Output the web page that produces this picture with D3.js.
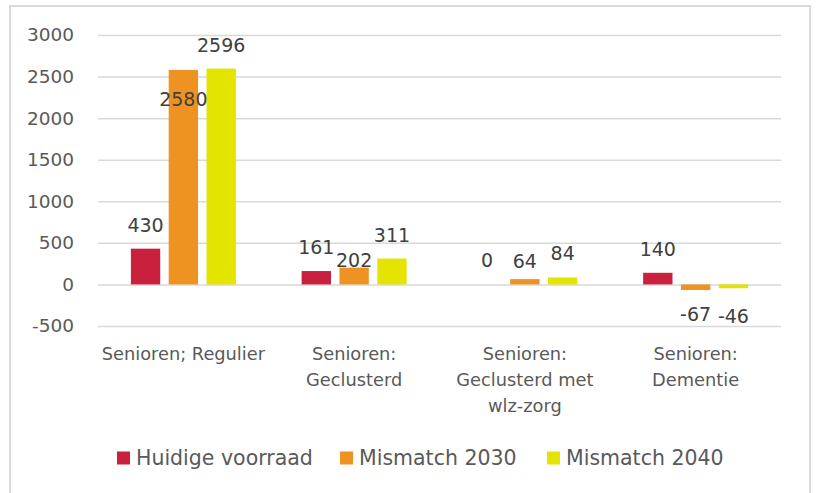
<!DOCTYPE html>
<html>
<head>
<meta charset="utf-8">
<script src="https://cdn.jsdelivr.net/npm/d3@7"></script>
<style>
  body { margin: 0; background: #fff; }
  svg { display: block; }
</style>
</head>
<body>
<script>
const categories = ["Senioren; Regulier", "Senioren:\nGeclusterd", "Senioren:\nGeclusterd met\nwlz-zorg", "Senioren:\nDementie"];
const series = ["Huidige voorraad", "Mismatch 2030", "Mismatch 2040"];
const huidige = [430, 161, 0, 140];
const mismatch2030 = [2580, 202, 64, -67];
const mismatch2040 = [2596, 311, 84, -46];
const yTicks = [-500, 0, 500, 1000, 1500, 2000, 2500, 3000];

const colors = ["#c9213d", "#ee9322", "#e3e400"];
const values = [huidige, mismatch2030, mismatch2040];

const w = 816, h = 493;
const svg = d3.select("body").append("svg").attr("width", w).attr("height", h);

// chart frame
svg.append("rect")
  .attr("x", 10).attr("y", 6)
  .attr("width", 800).attr("height", 500)
  .attr("fill", "none").attr("stroke", "#d9d9d9").attr("stroke-width", 2);

const left = 98, right = 781;
const y = d3.scaleLinear().domain([-500, 3000]).range([326, 35]);
const x0 = d3.scaleBand().domain(categories).range([left, right]);
const x1 = d3.scaleBand().domain(series).range([-52.5, 52.5]).paddingInner(0.224);

// gridlines + tick labels
const yAxis = svg.append("g")
  .attr("transform", `translate(${left},0)`)
  .call(d3.axisLeft(y).tickValues(yTicks).tickFormat(d => String(d)).tickSize(-(right - left)).tickPadding(24));
yAxis.select(".domain").remove();
yAxis.selectAll("line").attr("stroke", "#d9d9d9").attr("stroke-width", 1.5);
yAxis.selectAll("text")
  .style("font-family", "DejaVu Sans")
  .style("font-size", "18.5px")
  .attr("fill", "#595959");

// bars
const rows = [];
series.forEach((s, si) => {
  categories.forEach((c, ci) => rows.push({ s, si, c, ci, v: values[si][ci] }));
});

svg.append("g").selectAll("rect")
  .data(rows)
  .enter()
  .append("rect")
  .attr("x", d => x0(d.c) + x0.bandwidth() / 2 + x1(d.s))
  .attr("width", x1.bandwidth())
  .attr("y", d => y(Math.max(0, d.v)))
  .attr("height", d => Math.abs(y(d.v) - y(0)))
  .attr("fill", d => colors[d.si]);

// data labels (a few were nudged by hand in the original)
const nudge = { "1-0": 53, "1-1": 16, "1-2": 6, "2-3": 4 };
svg.append("g").selectAll("text")
  .data(rows)
  .enter()
  .append("text")
  .attr("x", d => x0(d.c) + x0.bandwidth() / 2 + x1(d.s) + x1.bandwidth() / 2)
  .attr("y", d => (d.v >= 0 ? y(d.v) - 24 : y(d.v) + 24) + (nudge[d.si + "-" + d.ci] || 0))
  .attr("text-anchor", "middle")
  .attr("dominant-baseline", "central")
  .style("font-family", "DejaVu Sans")
  .style("font-size", "19px")
  .attr("fill", "#404040")
  .text(d => d.v);

// category labels
const cat = svg.append("g").selectAll("text")
  .data(categories)
  .enter()
  .append("text")
  .attr("x", d => x0(d) + x0.bandwidth() / 2)
  .attr("y", 354)
  .attr("text-anchor", "middle")
  .style("font-family", "DejaVu Sans")
  .style("font-size", "17.8px")
  .attr("fill", "#595959");
cat.each(function (d) {
  const t = d3.select(this);
  d.split("\n").forEach((line, i) => {
    t.append("tspan")
      .attr("x", x0(d) + x0.bandwidth() / 2)
      .attr("dy", i === 0 ? "0.35em" : 26)
      .text(line);
  });
});

// legend
const legendX = [117, 340, 547];
const legend = svg.append("g").selectAll("g")
  .data(series)
  .enter()
  .append("g")
  .attr("transform", (d, i) => `translate(${legendX[i]},458)`);
legend.append("rect")
  .attr("x", 0).attr("y", -6.5)
  .attr("width", 13).attr("height", 13)
  .attr("fill", (d, i) => colors[i]);
legend.append("text")
  .attr("x", 19).attr("y", 0)
  .attr("dominant-baseline", "central")
  .style("font-family", "DejaVu Sans")
  .style("font-size", "20.5px")
  .attr("fill", "#595959")
  .text(d => d);
</script>
</body>
</html>
